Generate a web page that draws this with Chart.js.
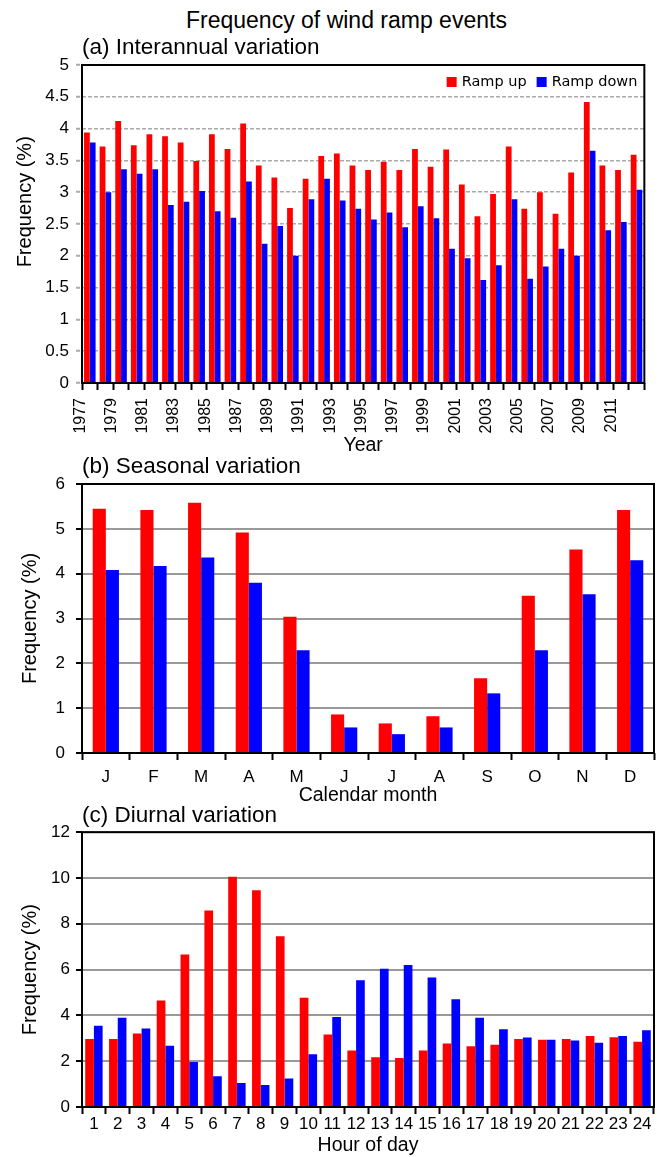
<!DOCTYPE html>
<html lang="en">
<head>
    <meta charset="UTF-8">
    <title>Frequency of wind ramp events</title>
    <style>
        body { margin: 0; width: 664px; height: 1157px; background: #fff; position: relative; font-family: "Liberation Sans", Arial, sans-serif; }
        #mainTitle { position: absolute; left: 186px; top: 7px; font-size: 23px; line-height: 27px; color: #000; white-space: nowrap; }
        canvas { position: absolute; left: 0; }
        #chartA { top: 30px; }
        #chartB { top: 450px; }
        #chartC { top: 797px; }
    </style>
</head>
<body>

    <div id="mainTitle">Frequency of wind ramp events</div>

    <!-- (a) interannual, (b) seasonal, (c) diurnal -->
    <canvas id="chartA" width="664" height="428"></canvas>
    <canvas id="chartB" width="664" height="360"></canvas>
    <canvas id="chartC" width="664" height="360"></canvas>

    <script src="https://cdn.jsdelivr.net/npm/chart.js"></script>
    <script>
        // data (%)
        const years = ['1977','1978','1979','1980','1981','1982','1983','1984','1985','1986','1987','1988',
                       '1989','1990','1991','1992','1993','1994','1995','1996','1997','1998','1999','2000',
                       '2001','2002','2003','2004','2005','2006','2007','2008','2009','2010','2011','2012'];
        const upYearly   = [3.94, 3.72, 4.12, 3.74, 3.91, 3.88, 3.78, 3.49, 3.91, 3.68, 4.08, 3.42,
                            3.23, 2.75, 3.21, 3.57, 3.61, 3.42, 3.35, 3.48, 3.35, 3.68, 3.40, 3.67,
                            3.12, 2.62, 2.97, 3.72, 2.74, 3.00, 2.66, 3.31, 4.42, 3.42, 3.35, 3.59];
        const downYearly = [3.78, 3.00, 3.36, 3.29, 3.36, 2.80, 2.85, 3.02, 2.70, 2.60, 3.17, 2.19,
                            2.47, 2.00, 2.89, 3.21, 2.87, 2.74, 2.57, 2.68, 2.45, 2.78, 2.59, 2.11,
                            1.96, 1.62, 1.85, 2.89, 1.64, 1.83, 2.11, 2.00, 3.65, 2.40, 2.53, 3.04];

        const months      = ['J','F','M','A','M','J','J','A','S','O','N','D'];
        const upMonthly   = [5.45, 5.42, 5.58, 4.92, 3.04, 0.86, 0.66, 0.82, 1.67, 3.51, 4.54, 5.42];
        const downMonthly = [4.08, 4.17, 4.36, 3.80, 2.29, 0.57, 0.42, 0.57, 1.33, 2.29, 3.54, 4.30];

        const hours      = ['1','2','3','4','5','6','7','8','9','10','11','12',
                            '13','14','15','16','17','18','19','20','21','22','23','24'];
        const upHourly   = [2.97, 2.97, 3.21, 4.65, 6.66, 8.58, 10.05, 9.47, 7.46, 4.77, 3.17, 2.47,
                            2.17, 2.14, 2.47, 2.77, 2.65, 2.72, 2.97, 2.94, 2.97, 3.10, 3.05, 2.85];
        const downHourly = [3.55, 3.90, 3.43, 2.68, 1.97, 1.34, 1.05, 0.96, 1.25, 2.30, 3.93, 5.53,
                            6.04, 6.20, 5.66, 4.70, 3.90, 3.39, 3.03, 2.94, 2.90, 2.81, 3.10, 3.35];

        const RED = '#ff0000';
        const BLUE = '#0000ff';
        const FONT = '"Liberation Sans", Arial, sans-serif';

        Chart.defaults.font.family = FONT;
        Chart.defaults.color = '#000';

        // black box round the plot area
        const framePlugin = {
            id: 'frame',
            afterDraw(chart) {
                const { ctx, chartArea: a } = chart;
                ctx.save();
                ctx.strokeStyle = '#000';
                ctx.lineWidth = 2;
                ctx.strokeRect(a.left, a.top, a.right - a.left, a.bottom - a.top);
                ctx.restore();
            }
        };

        // legend drawn inside the plot, top right (only panel a)
        const insideLegend = {
            id: 'insideLegend',
            afterDraw(chart, args, opts) {
                if (!opts.display) return;
                const { ctx, chartArea } = chart;
                const y = chartArea.top + 17;
                let x = chartArea.right - 7;
                ctx.save();
                ctx.font = '14.5px "DejaVu Sans"';
                ctx.textBaseline = 'middle';
                const items = chart.data.datasets;
                for (let i = items.length - 1; i >= 0; i--) {
                    const w = ctx.measureText(items[i].label).width;
                    x -= w;
                    ctx.fillStyle = '#000';
                    ctx.fillText(items[i].label, x, y);
                    x -= 15;
                    ctx.fillStyle = items[i].backgroundColor;
                    ctx.fillRect(x, y - 5, 10, 10);
                    x -= 10;
                }
                ctx.restore();
            }
        };

        function makeChart(id, p) {
            return new Chart(document.getElementById(id), {
                type: 'bar',
                data: {
                    labels: p.labels,
                    datasets: [
                        { label: 'Ramp up', data: p.up, backgroundColor: RED, borderWidth: 0,
                          categoryPercentage: p.catPct, barPercentage: 1.0 },
                        { label: 'Ramp down', data: p.down, backgroundColor: BLUE, borderWidth: 0,
                          categoryPercentage: p.catPct, barPercentage: 1.0 }
                    ]
                },
                plugins: [framePlugin, insideLegend],
                options: {
                    responsive: false,
                    animation: false,
                    layout: { padding: { left: 0, right: 10, top: 0, bottom: 0 } },
                    plugins: {
                        legend: { display: false },
                        tooltip: { enabled: false },
                        insideLegend: { display: p.legend },
                        title: {
                            display: true,
                            text: p.title,
                            align: 'start',
                            fullSize: false,
                            color: '#000',
                            font: { family: FONT, size: 22.5, weight: 'normal' },
                            padding: { top: p.titlePad[0], bottom: p.titlePad[1] }
                        }
                    },
                    scales: {
                        x: {
                            grid: { offset: true, drawOnChartArea: false, drawTicks: true,
                                    tickLength: 7, tickColor: '#000', tickWidth: 2 },
                            border: { display: false },
                            ticks: {
                                autoSkip: false,
                                minRotation: p.rotate,
                                maxRotation: p.rotate,
                                padding: p.xTickPad,
                                labelOffset: p.rotate ? -p.xTickSize * 0.6 : 0,
                                font: { size: p.xTickSize },
                                callback: p.xTickCallback || function (v, i) { return p.labels[i]; }
                            },
                            title: {
                                display: true,
                                text: p.xTitle,
                                font: { size: 19.5 },
                                padding: { top: 0, bottom: p.xTitlePad }
                            },
                            afterFit: s => { s.height = p.xHeight; }
                        },
                        y: {
                            min: 0,
                            max: p.yMax,
                            ticks: {
                                stepSize: p.yStep,
                                padding: p.yTickPad,
                                font: { size: 17 },
                                callback: v => String(Math.round(v * 10) / 10)
                            },
                            grid: { color: p.gridColor, lineWidth: p.gridWidth, drawTicks: true,
                                    tickLength: 6, tickColor: p.yTickColor, tickWidth: 2,
                                    tickBorderDash: p.dash },
                            border: { display: false, dash: p.dash },
                            title: {
                                display: true,
                                text: p.yTitle,
                                font: { size: 20 },
                                padding: { top: p.yTitlePad, bottom: 0 }
                            },
                            afterFit: s => { s.width = 82; }
                        }
                    }
                }
            });
        }

        const chartA = makeChart('chartA', {
            labels: years, up: upYearly, down: downYearly, catPct: 0.74, legend: true,
            title: '(a) Interannual variation', titlePad: [4.5, 3.5],
            rotate: 90, xTickPad: 8, xTickSize: 16,
            xTickCallback: (v, i) => (i % 2 === 0 ? years[i] : ''),
            xTitle: 'Year', xTitlePad: 0.3, xHeight: 75,
            yMax: 5, yStep: 0.5, yTickPad: 7,
            gridColor: '#aaaaaa', gridWidth: 1.5, yTickColor: '#aaaaaa', dash: [4, 2],
            yTitle: '        Frequency (%)', yTitlePad: 13
        });

        const chartB = makeChart('chartB', {
            labels: months, up: upMonthly, down: downMonthly, catPct: 0.55, legend: false,
            title: '(b) Seasonal variation', titlePad: [3.5, 3.5],
            rotate: 0, xTickPad: 7.5, xTickSize: 17,
            xTitle: 'Calendar month', xTitlePad: 2.8, xHeight: 57,
            yMax: 6, yStep: 1, yTickPad: 11,
            gridColor: '#999999', gridWidth: 2, yTickColor: '#000', dash: [],
            yTitle: 'Frequency (%)', yTitlePad: 18
        });

        const chartC = makeChart('chartC', {
            labels: hours, up: upHourly, down: downHourly, catPct: 0.73, legend: false,
            title: '(c) Diurnal variation', titlePad: [5.5, 2.7],
            rotate: 0, xTickPad: 0, xTickSize: 17,
            xTitle: 'Hour of day', xTitlePad: 0, xHeight: 50,
            yMax: 12, yStep: 2, yTickPad: 6,
            gridColor: '#999999', gridWidth: 2, yTickColor: '#000', dash: [],
            yTitle: 'Frequency (%)', yTitlePad: 18
        });
    </script>
</body>
</html>
